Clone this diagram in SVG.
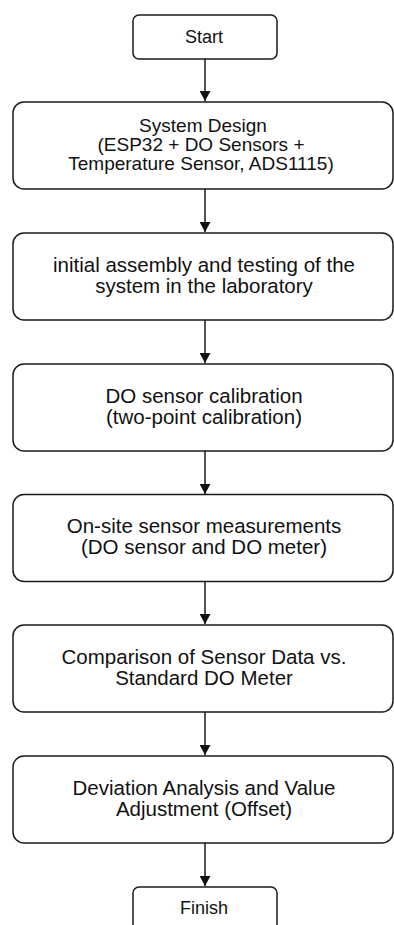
<svg xmlns="http://www.w3.org/2000/svg" width="394" height="925" viewBox="0 0 394 925">
<style>
.box{fill:#fff;stroke:#1a1a1a;stroke-width:1.5}
.t{font-family:"Liberation Sans",Arial,Helvetica,sans-serif;font-size:18px;fill:#111;text-anchor:middle}
.s{font-size:19px}
.l{font-size:20.5px}
.c{stroke:#1a1a1a;stroke-width:1.5;fill:none}
</style>
<defs>
<marker id="ah" markerWidth="12" markerHeight="11" refX="11" refY="6" orient="auto" markerUnits="userSpaceOnUse" viewBox="0 0 11 12">
<path d="M0,0 L11,6 L0,12 Z" fill="#111"/>
</marker>
</defs>
<rect width="394" height="925" fill="#fff"/>
<g id="connectors">
<line class="c" x1="205" y1="59" x2="205" y2="101" marker-end="url(#ah)"/>
<line class="c" x1="205" y1="189" x2="205" y2="232" marker-end="url(#ah)"/>
<line class="c" x1="205" y1="320" x2="205" y2="363" marker-end="url(#ah)"/>
<line class="c" x1="205" y1="451" x2="205" y2="494" marker-end="url(#ah)"/>
<line class="c" x1="205" y1="581" x2="205" y2="624" marker-end="url(#ah)"/>
<line class="c" x1="205" y1="712" x2="205" y2="755" marker-end="url(#ah)"/>
<line class="c" x1="205" y1="843" x2="205" y2="886" marker-end="url(#ah)"/>
</g>
<g id="start">
<rect class="box" x="133" y="15" width="144" height="44" rx="6"/>
<text class="t" x="204" y="43">Start</text>
</g>
<g id="design">
<rect class="box" x="13" y="102" width="380" height="87" rx="11"/>
<text class="t s" x="203" y="132">System Design</text>
<text class="t s" x="201" y="151">(ESP32 + DO Sensors + </text>
<text class="t s" x="201" y="170">Temperature Sensor, ADS1115)</text>
</g>
<g id="assembly">
<rect class="box" x="13" y="233" width="380" height="87" rx="11"/>
<text class="t l" x="204" y="271.5">initial assembly and testing of the</text>
<text class="t l" x="204" y="292.5">system in the laboratory</text>
</g>
<g id="calibration">
<rect class="box" x="13" y="364" width="380" height="87" rx="11"/>
<text class="t l" x="204" y="402.5">DO sensor calibration</text>
<text class="t l" x="204" y="423.5">(two-point calibration)</text>
</g>
<g id="onsite">
<rect class="box" x="13" y="494.5" width="380" height="87" rx="11"/>
<text class="t l" x="204" y="533">On-site sensor measurements</text>
<text class="t l" x="204" y="554">(DO sensor and DO meter)</text>
</g>
<g id="comparison">
<rect class="box" x="13" y="625" width="380" height="87" rx="11"/>
<text class="t l" x="204" y="663.5">Comparison of Sensor Data vs.</text>
<text class="t l" x="204" y="684.5">Standard DO Meter</text>
</g>
<g id="deviation">
<rect class="box" x="13" y="756" width="380" height="87" rx="11"/>
<text class="t l" x="204" y="794.5">Deviation Analysis and Value</text>
<text class="t l" x="204" y="815.5">Adjustment (Offset)</text>
</g>
<g id="finish">
<rect class="box" x="133" y="887" width="144" height="44" rx="6"/>
<text class="t" x="204" y="914">Finish</text>
</g>
</svg>
